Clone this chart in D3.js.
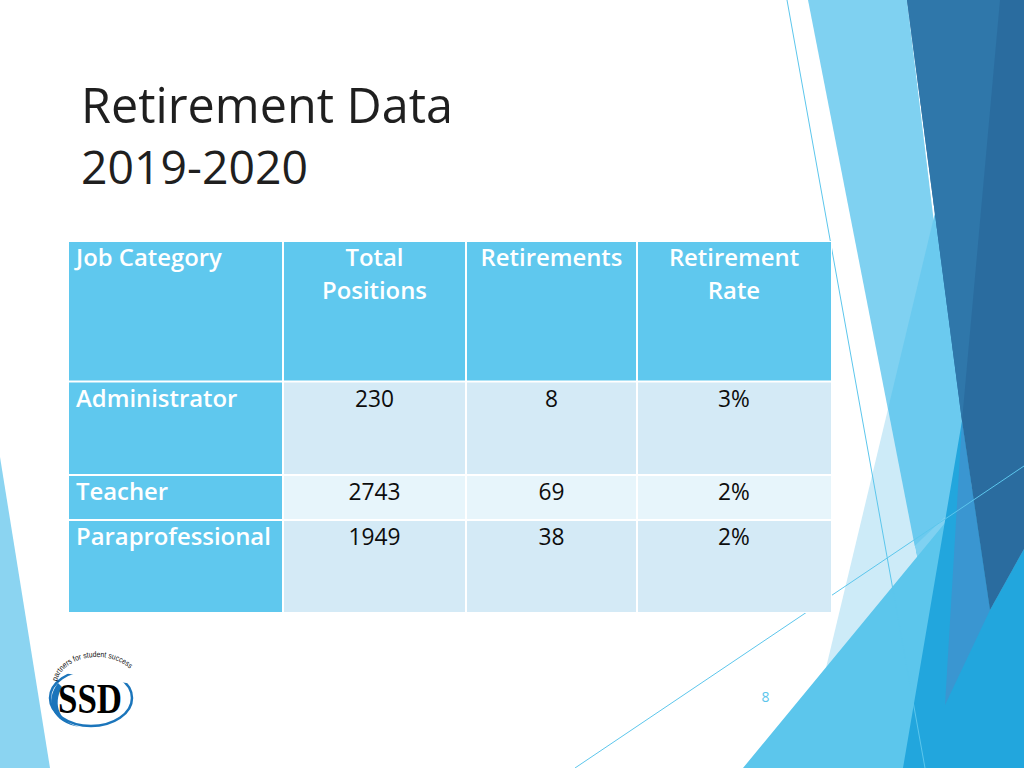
<!DOCTYPE html>
<html>
<head>
<meta charset="utf-8">
<script src="https://cdn.jsdelivr.net/npm/d3@7"></script>
<style>
  html, body { margin: 0; padding: 0; background: #ffffff; }
  svg { display: block; }
</style>
</head>
<body>
<svg id="slide" width="1024" height="768"></svg>
<script>
// ---------- data ----------
const titleLines = ["Retirement Data", "2019-2020"];
const headers = [["Job Category"], ["Total", "Positions"], ["Retirements"], ["Retirement", "Rate"]];
const categories = ["Administrator", "Teacher", "Paraprofessional"];
const totalPositions = [230, 2743, 1949];
const retirements = [8, 69, 38];
const retirementRate = [3, 2, 2];
const pageNumber = "8";
const logoText = "SSD";
const logoTagline = "partners for student success";

// ---------- layout ----------
const svg = d3.select("#slide");
const W = 1024, H = 768;
svg.append("rect").attr("width", W).attr("height", H).attr("fill", "#ffffff");

// decorative facets
const deco = svg.append("g");
const facets = [
  { c: "#8bd4f1", p: [[0,457],[50,768],[0,768]] },
  { c: "#7fd1f1", p: [[808,0],[907,0],[1000,768],[958,768]] },
  { c: "#6bcaef", p: [[950,150],[888,409],[900,560],[968,495],[1000,400],[1000,150]] },
  { c: "#cdebf8", p: [[888,409],[802,768],[958,768]] },
  { c: "#5cc6ec", p: [[743,768],[968,495],[1024,427],[1024,768]] },
  { c: "#22a6dd", p: [[903,768],[962,421],[990,610],[1024,549],[1024,768]] },
  { c: "#3a96d1", p: [[962,421],[990,610],[945,705]] },
  { c: "#2a6c9f", p: [[907,0],[1024,0],[1024,549],[990,610],[962,421]] },
  { c: "#2f77aa", p: [[907,0],[1000,0],[962,421]] }
];
const line = d3.line();
deco.selectAll("path.facet").data(facets).join("path")
  .attr("class", "facet")
  .attr("d", d => line(d.p) + "Z")
  .attr("fill", d => d.c);
const thinLines = [ [[787,0],[925,768]], [[575,768],[1024,466]] ];
deco.selectAll("path.thin").data(thinLines).join("path")
  .attr("class", "thin")
  .attr("d", d => line(d))
  .attr("stroke", "#5cc6ec").attr("stroke-width", 1).attr("fill", "none");

// title
const titleG = svg.append("g");
const yTitle = d3.scalePoint().domain(titleLines).range([123, 184]);
const titleTargets = [372, 227];
titleG.selectAll("text").data(titleLines).join("text")
  .attr("x", 81).attr("y", d => yTitle(d))
  .attr("font-family", "Open Sans, sans-serif")
  .attr("font-size", 48)
  .attr("fill", "#1f1f1f")
  .text(d => d)
  .each(function(d, i) {
    const l = this.getComputedTextLength();
    d3.select(this).attr("font-size", 48 * titleTargets[i] / l);
  });

// table
const colEdges = [69, 283, 466, 637, 831];
const rowEdges = [242, 381.5, 475, 520, 612];
const x0 = d3.scaleOrdinal().domain([0,1,2,3]).range(colEdges.slice(0,4));
const x1 = d3.scaleOrdinal().domain([0,1,2,3]).range(colEdges.slice(1));
const y0 = d3.scaleOrdinal().domain([0,1,2,3]).range(rowEdges.slice(0,4));
const y1 = d3.scaleOrdinal().domain([0,1,2,3]).range(rowEdges.slice(1));

const table = svg.append("g");
table.append("rect")
  .attr("x", colEdges[0] - 1).attr("y", rowEdges[0] - 1)
  .attr("width", colEdges[4] - colEdges[0] + 2).attr("height", rowEdges[4] - rowEdges[0] + 2)
  .attr("fill", "#ffffff");

const rows = [
  headers.map(h => ({ lines: h, head: true })),
  ...categories.map((c, i) => [
    { lines: [c], head: true, left: true },
    { lines: [String(totalPositions[i])] },
    { lines: [String(retirements[i])] },
    { lines: [retirementRate[i] + "%"] }
  ])
];
rows[0][0].left = true;

const cells = [];
rows.forEach((r, ri) => r.forEach((c, ci) => cells.push({ ...c, ri, ci })));

function cellFill(d) {
  if (d.ri === 0 || d.ci === 0) return "#5fc8ee";
  return d.ri === 2 ? "#e7f5fb" : "#d4eaf6";
}
const gap = 1;
table.selectAll("rect.cell").data(cells).join("rect")
  .attr("class", "cell")
  .attr("x", d => x0(d.ci) + (d.ci === 0 ? 0 : gap))
  .attr("y", d => y0(d.ri) + (d.ri === 0 ? 0 : gap))
  .attr("width", d => x1(d.ci) - x0(d.ci) - (d.ci === 0 ? gap : 2 * gap) + (d.ci === 3 ? gap : 0))
  .attr("height", d => y1(d.ri) - y0(d.ri) - (d.ri === 0 ? gap : 2 * gap) + (d.ri === 3 ? gap : 0))
  .attr("fill", cellFill);

// one text element per line
const baseline = [266, 407, 500, 545];
const lineGap = 33;
const textItems = [];
cells.forEach(d => d.lines.forEach((t, k) => textItems.push({ t, k, d })));

const texts = table.selectAll("text.cell").data(textItems).join("text")
  .attr("class", "cell")
  .attr("x", e => e.d.left ? x0(e.d.ci) + 7 : (x0(e.d.ci) + x1(e.d.ci)) / 2)
  .attr("y", e => baseline[e.d.ri] + e.k * lineGap)
  .attr("text-anchor", e => e.d.left ? "start" : "middle")
  .attr("font-family", "Open Sans, sans-serif")
  .attr("font-weight", e => e.d.head ? 600 : 400)
  .attr("font-size", e => e.d.head ? 20 : 21)
  .attr("fill", e => e.d.head ? "#ffffff" : "#0d0d0d")
  .text(e => e.t);

// fit font sizes to the reference widths
(function fitTable() {
  const para = texts.filter(e => e.t === "Paraprofessional").node();
  const fsH = 20 * 195 / para.getComputedTextLength();
  texts.filter(e => e.d.head).attr("font-size", fsH);
  const num = texts.filter(e => e.t === "2743").node();
  const fsN = 21 * 52 / num.getComputedTextLength();
  texts.filter(e => !e.d.head).attr("font-size", fsN);
})();

// page number
svg.append("text").attr("x", 765.5).attr("y", 702)
  .attr("text-anchor", "middle")
  .attr("font-family", "Open Sans, sans-serif").attr("font-size", 14)
  .attr("fill", "#5bc5ec").text(pageNumber);

// logo
const logo = svg.append("g");
logo.append("ellipse").attr("cx", 91).attr("cy", 698).attr("rx", 41).attr("ry", 28)
  .attr("fill", "none").attr("stroke", "#1b75bb").attr("stroke-width", 2.5);
logo.append("path")
  .attr("d", "M 58,683 C 44,701 52,723 80,727 C 60,723 52,705 62,687 Z")
  .attr("fill", "#1b75bb");
logo.append("rect").attr("x", 58).attr("y", 662).attr("width", 78).attr("height", 16).attr("fill", "#ffffff")
  .attr("transform", "rotate(9 96 670)");
logo.append("path").attr("id", "tagArc")
  .attr("d", "M 57.2,681.5 A 40 28 0 0 1 136.6,681.5").attr("fill", "none");
logo.append("text")
  .attr("font-family", "Liberation Sans, sans-serif").attr("font-size", 8)
  .attr("fill", "#111")
  .append("textPath").attr("href", "#tagArc")
  .attr("textLength", 86).attr("lengthAdjust", "spacingAndGlyphs")
  .text(logoTagline);
logo.append("text").attr("x", 90).attr("y", 713)
  .attr("text-anchor", "middle")
  .attr("font-family", "Liberation Serif, serif").attr("font-weight", 700)
  .attr("font-size", 43).attr("fill", "#000")
  .attr("textLength", 64).attr("lengthAdjust", "spacingAndGlyphs")
  .text(logoText);
</script>
</body>
</html>
